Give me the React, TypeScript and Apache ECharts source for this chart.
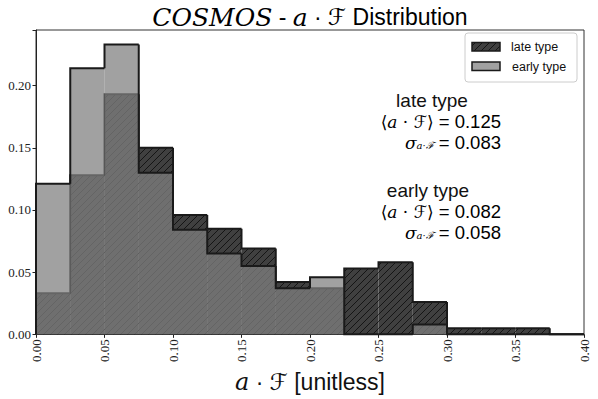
import React, { useEffect, useRef } from "react";
import * as echarts from "echarts";

const binEdges = [0, 0.025, 0.05, 0.075, 0.1, 0.125, 0.15, 0.175, 0.2, 0.225, 0.25, 0.275, 0.3, 0.325, 0.35, 0.375, 0.4];
const lateValues = [0.033, 0.128, 0.193, 0.150, 0.096, 0.085, 0.069, 0.042, 0.037, 0.053, 0.058, 0.026, 0.005, 0.005, 0.005, 0];
const earlyValues = [0.121, 0.214, 0.233, 0.130, 0.084, 0.065, 0.055, 0.037, 0.046, 0, 0, 0.008, 0, 0, 0, 0];
const seriesNames = ["late type", "early type"];
const lateStats = ["0.125", "0.083"];
const earlyStats = ["0.082", "0.058"];

const LATE_FILL = "#404040";
const HATCH = "#151515";
const EARLY_FILL = "rgba(128,128,128,0.74)";
const EDGE = "#1a1a1a";
const HATCH_STEP = 7;

function hatch(x0: number, y0: number, x1: number, y1: number, z2 = 0) {
  const out: any[] = [];
  const cStart = Math.ceil((x0 + y0) / HATCH_STEP) * HATCH_STEP;
  for (let c = cStart; c <= x1 + y1; c += HATCH_STEP) {
    const xa = Math.max(x0, c - y1);
    const xb = Math.min(x1, c - y0);
    if (xb - xa > 0.3) {
      out.push({
        type: "line",
        z2,
        shape: { x1: xa, y1: c - xa, x2: xb, y2: c - xb },
        style: { stroke: HATCH, lineWidth: 1 },
        silent: true,
      });
    }
  }
  return out;
}

function makeData(values: number[]) {
  return values.map((v, i) => [binEdges[i], binEdges[i + 1], v]);
}

function fillRenderer(hatched: boolean, fill: string) {
  return (params: any, api: any) => {
    const x0 = api.value(0);
    const x1 = api.value(1);
    const v = api.value(2);
    if (!(v > 0)) return { type: "group", children: [] };
    const p0 = api.coord([x0, v]);
    const p1 = api.coord([x1, 0]);
    const children: any[] = [
      {
        type: "rect",
        shape: { x: p0[0], y: p0[1], width: p1[0] - p0[0], height: p1[1] - p0[1] },
        style: { fill },
      },
    ];
    if (hatched) children.push(...hatch(p0[0], p0[1], p1[0], p1[1], 1));
    return { type: "group", children };
  };
}

function edgeRenderer(values: number[]) {
  return (params: any, api: any) => {
    const i = params.dataIndex;
    const x0 = api.value(0);
    const x1 = api.value(1);
    const v = api.value(2);
    const prev = i > 0 ? values[i - 1] : 0;
    const pts = [api.coord([x0, prev]), api.coord([x0, v]), api.coord([x1, v])];
    if (i === values.length - 1) pts.push(api.coord([x1, 0]));
    return {
      type: "polyline",
      shape: { points: pts },
      style: { stroke: EDGE, lineWidth: 2, fill: null, lineJoin: "miter" },
    };
  };
}

const serif = "'DejaVu Serif', serif";
const sans = "'Liberation Sans', Arial, sans-serif";

function statBlock(title: string, stats: string[], cx: number, rx: number, y: number) {
  const rich = {
    s: { fontFamily: sans, fontSize: 18.5, color: "#111", lineHeight: 16 },
    m: { fontFamily: serif, fontStyle: "italic", fontSize: 17, color: "#111", lineHeight: 16 },
    b: { fontFamily: serif, fontSize: 17, color: "#111", lineHeight: 16 },
    c: { fontFamily: "'DejaVu Sans'", fontStyle: "italic", fontSize: 17, color: "#111", lineHeight: 16 },
    sub: { fontFamily: serif, fontStyle: "italic", fontSize: 10, color: "#111", lineHeight: 8, padding: [6, 0, 0, 0] },
  };
  return [
    {
      type: "text",
      x: cx,
      y: y,
      style: { text: title, font: `19px ${sans}`, fill: "#111", align: "center", verticalAlign: "middle" },
    },
    {
      type: "text",
      x: rx,
      y: y + 21.5,
      style: {
        text: `{b|⟨}{m|a}{b| · }{c|ℱ}{b|⟩}{s| = ${stats[0]}}`,
        rich,
        align: "right",
        verticalAlign: "middle",
      },
    },
    {
      type: "text",
      x: rx,
      y: y + 42.5,
      style: {
        text: `{m|σ}{sub|a·ℱ}{s| = ${stats[1]}}`,
        rich,
        align: "right",
        verticalAlign: "middle",
      },
    },
  ];
}

export default function App() {
  const ref = useRef<HTMLDivElement>(null);
  useEffect(() => {
    if (!ref.current) return;
    const chart = echarts.init(ref.current, null, { renderer: "svg" });

    const legendX = 465;
    const legendY = 33;
    const graphic: any[] = [
      {
        type: "text",
        x: 310,
        y: 17,
        style: {
          text: "{m|COSMOS}{s| - }{m|a}{s| · }{c|ℱ}{s| Distribution}",
          rich: {
            m: { fontFamily: serif, fontStyle: "italic", fontSize: 25, color: "#111" },
            s: { fontFamily: sans, fontSize: 23, color: "#111" },
            c: { fontFamily: "'DejaVu Sans'", fontStyle: "italic", fontSize: 23, color: "#111" },
          },
          align: "center",
          verticalAlign: "middle",
        },
      },
      // legend
      {
        type: "rect",
        shape: { x: legendX, y: legendY, width: 112, height: 49, r: 3 },
        style: { fill: "rgba(255,255,255,0.8)", stroke: "#cccccc", lineWidth: 1 },
      },
      {
        type: "rect",
        shape: { x: 472, y: 42.5, width: 28, height: 8.5 },
        style: { fill: LATE_FILL },
      },
      ...hatch(472, 42.5, 500, 51),
      {
        type: "rect",
        shape: { x: 472, y: 42.5, width: 28, height: 8.5 },
        style: { fill: null, stroke: EDGE, lineWidth: 1.5 },
      },
      {
        type: "rect",
        shape: { x: 472, y: 62, width: 28, height: 8.5 },
        style: { fill: EARLY_FILL, stroke: EDGE, lineWidth: 1.5 },
      },
      {
        type: "text",
        x: 511,
        y: 47,
        style: { text: seriesNames[0], font: `12.5px ${sans}`, fill: "#111", align: "left", verticalAlign: "middle" },
      },
      {
        type: "text",
        x: 512,
        y: 66.5,
        style: { text: seriesNames[1], font: `12.5px ${sans}`, fill: "#111", align: "left", verticalAlign: "middle" },
      },
      ...statBlock(seriesNames[0], lateStats, 432, 501, 100),
      ...statBlock(seriesNames[1], earlyStats, 428, 501, 190),
    ];

    const tickFont = "'Liberation Serif', serif";

    chart.setOption({
      animation: false,
      grid: {
        left: 36,
        right: 14,
        top: 30,
        bottom: 61,
        show: true,
        borderColor: "#333",
        borderWidth: 1,
      },
      xAxis: {
        type: "value",
        min: 0,
        max: 0.4,
        interval: 0.05,
        splitLine: { show: false },
        axisLine: { show: true, onZero: false, lineStyle: { color: "#222", width: 1 } },
        axisTick: { show: true, length: 3.5, lineStyle: { color: "#222" } },
        axisLabel: {
          rotate: 90,
          margin: 5,
          fontFamily: tickFont,
          fontSize: 13,
          color: "#222",
          formatter: (v: number) => v.toFixed(2),
        },
        name: "{m|a}{s| · }{c|ℱ}{s| [unitless]}",
        nameLocation: "middle",
        nameGap: 29,
        nameTextStyle: {
          rich: {
            m: { fontFamily: serif, fontStyle: "italic", fontSize: 24, color: "#111" },
            s: { fontFamily: sans, fontSize: 23, color: "#111" },
            c: { fontFamily: "'DejaVu Sans'", fontStyle: "italic", fontSize: 23, color: "#111" },
          },
        },
      },
      yAxis: {
        type: "value",
        min: 0,
        max: 0.2447,
        interval: 0.05,
        splitLine: { show: false },
        axisLine: { show: true, onZero: false, lineStyle: { color: "#222", width: 1 } },
        axisTick: { show: true, length: 3.5, lineStyle: { color: "#222" } },
        axisLabel: {
          margin: 5,
          fontFamily: tickFont,
          fontSize: 13,
          color: "#222",
          formatter: (v: number) => {
            const k = v / 0.05;
            return Math.abs(k - Math.round(k)) < 1e-6 ? v.toFixed(2) : "";
          },
        },
      },
      series: [
        {
          name: seriesNames[0] + " fill",
          type: "custom",
          renderItem: fillRenderer(true, LATE_FILL),
          data: makeData(lateValues),
          encode: { x: [0, 1], y: 2 },
          silent: true,
          z: 2,
        },
        {
          name: seriesNames[0],
          type: "custom",
          renderItem: edgeRenderer(lateValues),
          data: makeData(lateValues),
          encode: { x: [0, 1], y: 2 },
          silent: true,
          z: 3,
        },
        {
          name: seriesNames[1] + " fill",
          type: "custom",
          renderItem: fillRenderer(false, EARLY_FILL),
          data: makeData(earlyValues),
          encode: { x: [0, 1], y: 2 },
          silent: true,
          z: 4,
        },
        {
          name: seriesNames[1],
          type: "custom",
          renderItem: edgeRenderer(earlyValues),
          data: makeData(earlyValues),
          encode: { x: [0, 1], y: 2 },
          silent: true,
          z: 5,
        },
      ],
      graphic,
    });
    return () => chart.dispose();
  }, []);
  return <div ref={ref} style={{ width: 598, height: 399, position: "absolute", left: 0, top: 0 }} />;
}
